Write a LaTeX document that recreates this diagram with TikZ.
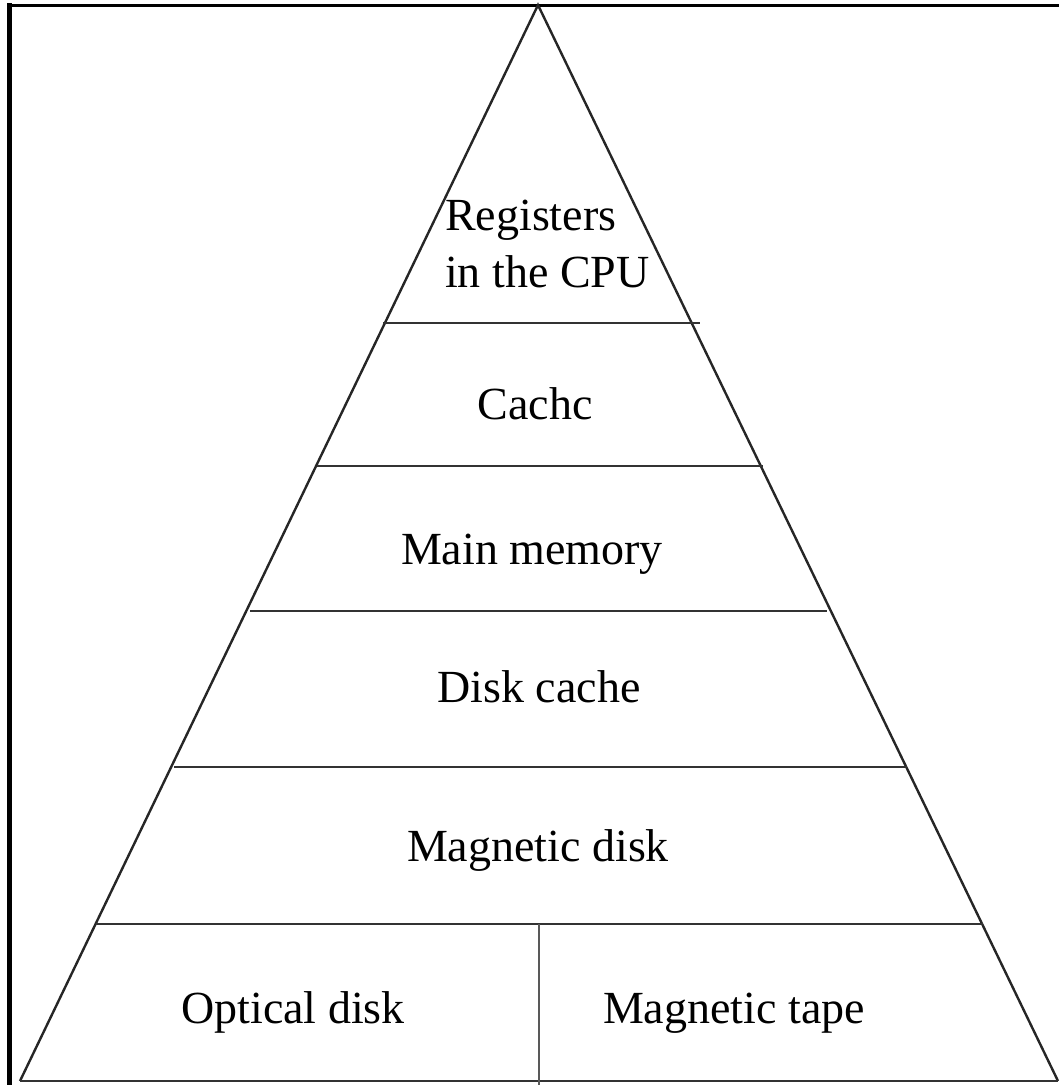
\documentclass[tikz,border=0pt]{standalone}
\usepackage{fontspec}
\setmainfont{Liberation Serif}
\begin{document}
\begin{tikzpicture}[x=1pt,y=-1pt,
  frameline/.style={draw=black, line cap=butt},
  leg/.style={draw=black!85, line width=2.4pt, line join=miter},
  tier/.style={draw=black!80, line width=2.4pt},
  split/.style={draw=black!65, line width=2.6pt},
  lbl/.style={font=\fontsize{46}{57}\selectfont, inner sep=0pt}]
\useasboundingbox (0,0) rectangle (1059,1085);

% outer frame: heavy left edge, thin top edge
\draw[frameline, line width=5.5pt] (9.5,3) -- (9.5,1085);
\draw[frameline, line width=3pt] (7,5) -- (1059,5);

% pyramid outline
\coordinate (apex) at (538,5);
\coordinate (bl) at (20,1081);
\coordinate (br) at (1058,1081);
\draw[leg] (bl) -- (apex) -- (br);
\draw[tier] (bl) -- (br);

% tier separators
\coordinate (t1l) at (383,323);  \coordinate (t1r) at (700,323);
\coordinate (t2l) at (317,466);  \coordinate (t2r) at (763,466);
\coordinate (t3l) at (250,611);  \coordinate (t3r) at (827,611);
\coordinate (t4l) at (174,767);  \coordinate (t4r) at (907,767);
\coordinate (t5l) at (96,924);   \coordinate (t5r) at (983,924);
\draw[tier] (t1l) -- (t1r);
\draw[tier] (t2l) -- (t2r);
\draw[tier] (t3l) -- (t3r);
\draw[tier] (t4l) -- (t4r);
\draw[tier] (t5l) -- (t5r);

% divider of the bottom tier
\coordinate (dtop) at (539,924);
\coordinate (dbot) at (539,1085);
\draw[split] (dtop) -- (dbot);

% tier labels
\node[lbl, anchor=base west] (reg1) at (445,230) {Registers};
\node[lbl, anchor=base west] (reg2) at (445,287) {in the CPU};
\node[lbl, anchor=base] (cache) at (535,419) {Cachc};
\node[lbl, anchor=base] (mainmem) at (532,564) {Main memory};
\node[lbl, anchor=base] (diskcache) at (539,702) {Disk cache};
\node[lbl, anchor=base] (magdisk) at (538,861) {Magnetic disk};
\node[lbl, anchor=base] (optdisk) at (293,1023) {Optical disk};
\node[lbl, anchor=base] (magtape) at (734,1023) {Magnetic tape};
\end{tikzpicture}
\end{document}
